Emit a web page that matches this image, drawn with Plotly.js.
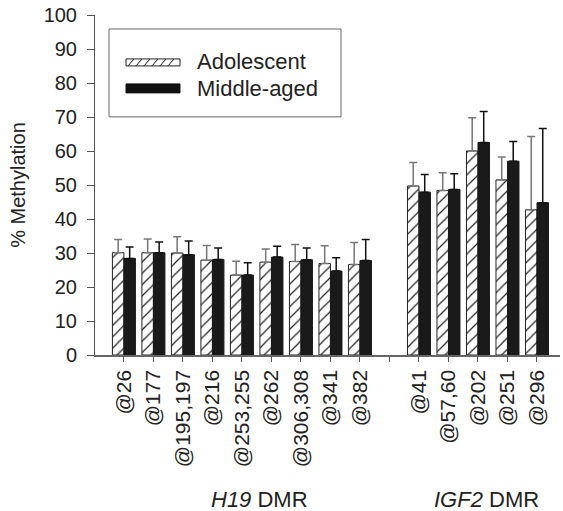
<!DOCTYPE html>
<html><head><meta charset="utf-8">
<script src="https://cdn.plot.ly/plotly-3.0.1.min.js"></script>
<style>body{margin:0;background:#fff}#chart{width:563px;height:511px}</style>
</head><body><div id="chart"></div>
<script>
// ---- data ----
const categories = ["@26","@177","@195,197","@216","@253,255","@262","@306,308","@341","@382",
                    "@41","@57,60","@202","@251","@296"];
const groupOf = ["H19","H19","H19","H19","H19","H19","H19","H19","H19",
                 "IGF2","IGF2","IGF2","IGF2","IGF2"];
const adolescent      = [30.1, 30.1, 30.0, 27.9, 23.5, 27.3, 27.5, 26.9, 26.6, 49.7, 48.4, 60.0, 51.5, 42.7];
const adolescentErr   = [3.9, 4.0, 4.8, 4.3, 4.1, 3.9, 5.0, 5.2, 6.5, 6.9, 5.2, 9.8, 6.7, 21.6];
const middleAged      = [28.4, 30.1, 29.5, 28.1, 23.5, 28.8, 28.0, 24.7, 27.8, 47.9, 48.7, 62.5, 57.0, 44.8];
const middleAgedErr   = [3.4, 3.1, 4.0, 3.4, 3.6, 3.2, 3.5, 3.9, 6.2, 5.2, 4.6, 9.1, 5.8, 21.8];
const groupTitles = ["<i>H19</i> DMR", "<i>IGF2</i> DMR"];
const legendNames = ["Adolescent", "Middle-aged"];
const yTicks = [0,10,20,30,40,50,60,70,80,90,100];

// x positions: H19 group, one empty slot, then IGF2 group
const xpos = categories.map((c,i) => groupOf[i] === "H19" ? i : i + 1);
const tickvals = [], ticktext = [];
for (let k = -1; k <= 14; k++) {
  tickvals.push(k);
  const idx = xpos.indexOf(k);
  ticktext.push(idx >= 0 ? categories[idx] : "");
}

const FONT = "Liberation Sans, Arial, sans-serif";
const L = 95, R = 560, T = 15, B = 355.5, W = 563, H = 511;
const px = x => (x - L) / (R - L);
const py = y => (B - y) / (B - T);

const zeros = adolescent.map(() => 0);
const traces = [
  {type:"bar", name:legendNames[0], x:xpos, y:adolescent, showlegend:false,
   marker:{color:"#fff", line:{color:"#222", width:1},
           pattern:{shape:"/", fgcolor:"#222", bgcolor:"#fff", size:8, solidity:0.15}},
   error_y:{type:"data", symmetric:false, array:adolescentErr, arrayminus:zeros,
            color:"#777", thickness:1.5, width:4}},
  {type:"bar", name:legendNames[1], x:xpos, y:middleAged, showlegend:false,
   marker:{color:"#1a1a1a", line:{color:"#1a1a1a", width:1}},
   error_y:{type:"data", symmetric:false, array:middleAgedErr, arrayminus:zeros,
            color:"#111", thickness:1.5, width:4}}
];

// legend drawn manually
const shapes = [
  {type:"rect", xref:"paper", yref:"paper", x0:px(109), x1:px(341), y0:py(117), y1:py(29),
   line:{color:"#666", width:1}, fillcolor:"rgba(0,0,0,0)"},
  {type:"rect", xref:"paper", yref:"paper", x0:px(126), x1:px(180), y0:py(66), y1:py(59),
   line:{color:"#222", width:1}, fillcolor:"#fff"},
  {type:"rect", xref:"paper", yref:"paper", x0:px(126), x1:px(180), y0:py(93), y1:py(84),
   line:{color:"#111", width:1}, fillcolor:"#111"}
];
for (let x = 128; x + 6 <= 180; x += 8) {
  shapes.push({type:"line", xref:"paper", yref:"paper", x0:px(x), x1:px(x+6), y0:py(66), y1:py(59),
               line:{color:"#222", width:1}});
}

const annotations = [
  {xref:"paper", yref:"paper", x:px(195), y:py(62), xanchor:"left", yanchor:"middle",
   text:legendNames[0], showarrow:false, font:{family:FONT, size:22, color:"#222"}},
  {xref:"paper", yref:"paper", x:px(195), y:py(89), xanchor:"left", yanchor:"middle",
   text:legendNames[1], showarrow:false, font:{family:FONT, size:22, color:"#222"}},
  {xref:"paper", yref:"paper", x:px(259), y:py(500), xanchor:"center", yanchor:"middle",
   text:groupTitles[0], showarrow:false, font:{family:FONT, size:22, color:"#222"}},
  {xref:"paper", yref:"paper", x:px(486), y:py(500), xanchor:"center", yanchor:"middle",
   text:groupTitles[1], showarrow:false, font:{family:FONT, size:22, color:"#222"}}
];

const layout = {
  width:W, height:H,
  margin:{l:L, r:W-R, t:T, b:H-B},
  paper_bgcolor:"#fff", plot_bgcolor:"#fff",
  barmode:"group", bargap:0.22, bargroupgap:0,
  font:{family:FONT, color:"#222", size:20},
  xaxis:{range:[-0.98, 14.78], tickmode:"array", tickvals:tickvals, ticktext:ticktext,
         tickangle:-90, ticks:"outside", ticklen:5, tickcolor:"#555", tickwidth:1,
         showline:true, linecolor:"#666", linewidth:1.5, showgrid:false, zeroline:false,
         tickfont:{family:FONT, size:21, color:"#222"}},
  yaxis:{range:[0,100], tickmode:"array", tickvals:yTicks, ticks:"outside", ticklen:7,
         tickcolor:"#555", tickwidth:1, showline:true, linecolor:"#555", linewidth:1,
         ticklabelstandoff:6,
         showgrid:false, zeroline:false, tickfont:{family:FONT, size:20, color:"#222"},
         title:{text:"% Methylation", font:{family:FONT, size:20, color:"#222"}, standoff:12}},
  shapes:shapes, annotations:annotations, showlegend:false
};
Plotly.newPlot("chart", traces, layout, {staticPlot:true});
</script></body></html>
